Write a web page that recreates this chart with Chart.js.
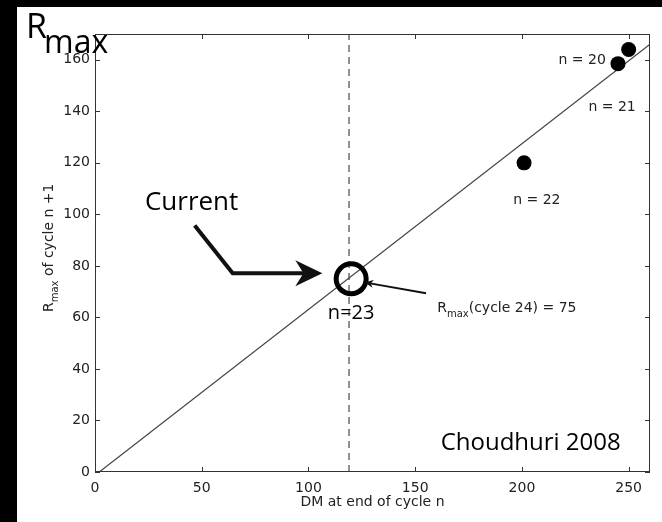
<!DOCTYPE html>
<html>
<head>
<meta charset="utf-8">
<script src="https://cdn.jsdelivr.net/npm/chart.js@4.4.1/dist/chart.umd.min.js"></script>
<style>
  html, body { margin: 0; padding: 0; background: #000; }
  #sheet { position: absolute; left: 17px; top: 7px; width: 645px; height: 515px; background: #fff; }
  canvas { display: block; }
</style>
</head>
<body>
<div id="sheet"><canvas id="chart" width="645" height="515"></canvas></div>
<script>
// Axis ticks
const xTicks = [0, 50, 100, 150, 200, 250];
const yTicks = [0, 20, 40, 60, 80, 100, 120, 140, 160];

// Past cycles: DM at end of cycle n vs Rmax of cycle n+1
const cycleLabels = ['n = 20', 'n = 21', 'n = 22'];
const dmValues = [250, 245, 201];
const rmaxValues = [164, 158.5, 120];

// Current cycle (n = 23)
const currentDM = [120];
const currentRmax = [75];

// Regression line and the vertical cut at current DM
const fitDM = [2, 260];
const fitRmax = [0, 166];
const cutDM = [119, 119];
const cutRmax = [0, 170];

const toXY = (xs, ys) => xs.map((v, i) => ({ x: v, y: ys[i] }));

const TICK_FONT = '14px "DejaVu Sans"';
const NOTE_FONT = '"Open Sans"';

function arrowHead(ctx, tipX, tipY, ang, len, half) {
    ctx.save();
    ctx.translate(tipX, tipY);
    ctx.rotate(ang);
    ctx.beginPath();
    ctx.moveTo(0, 0);
    ctx.lineTo(-len, -half);
    ctx.lineTo(-len * 0.7, 0);
    ctx.lineTo(-len, half);
    ctx.closePath();
    ctx.fill();
    ctx.restore();
}

const annotate = {
    id: 'annotate',
    afterDatasetsDraw(chart) {
        const { ctx, chartArea: a, scales: { x, y } } = chart;
        const px = v => x.getPixelForValue(v);
        const py = v => y.getPixelForValue(v);
        ctx.save();

        // frame + inward ticks (matlab style)
        ctx.strokeStyle = '#333';
        ctx.lineWidth = 1;
        ctx.strokeRect(a.left + 0.5, a.top + 0.5, a.right - a.left - 1, a.bottom - a.top - 1);
        ctx.beginPath();
        xTicks.forEach(v => {
            const X = Math.round(px(v)) + 0.5;
            ctx.moveTo(X, a.bottom); ctx.lineTo(X, a.bottom - 5);
            ctx.moveTo(X, a.top); ctx.lineTo(X, a.top + 5);
        });
        yTicks.forEach(v => {
            const Y = Math.round(py(v)) + 0.5;
            ctx.moveTo(a.left, Y); ctx.lineTo(a.left + 5, Y);
            ctx.moveTo(a.right, Y); ctx.lineTo(a.right - 5, Y);
        });
        ctx.stroke();

        // cycle labels
        ctx.fillStyle = '#222';
        ctx.font = TICK_FONT;
        ctx.textBaseline = 'alphabetic';
        ctx.textAlign = 'right';
        ctx.fillText(cycleLabels[0], px(239.3), py(158.5));
        ctx.fillText(cycleLabels[1], px(253.3), py(140.3));
        ctx.textAlign = 'center';
        ctx.fillText(cycleLabels[2], px(207), py(104.2));

        // Rmax(cycle 24) = 75 note
        ctx.textAlign = 'left';
        let tx = px(160.3), ty = py(62);
        ctx.fillText('R', tx, ty);
        tx += ctx.measureText('R').width;
        ctx.font = '10px "DejaVu Sans"';
        ctx.fillText('max', tx, ty + 5);
        tx += ctx.measureText('max').width;
        ctx.font = TICK_FONT;
        ctx.fillText('(cycle ' + '24) = ' + currentRmax[0], tx, ty);

        // thin pointer to the open circle
        ctx.strokeStyle = '#111';
        ctx.fillStyle = '#111';
        ctx.lineWidth = 2;
        const p0 = [px(155.1), py(69.4)], p1 = [px(126.2), py(73.6)];
        ctx.beginPath(); ctx.moveTo(p0[0], p0[1]); ctx.lineTo(p1[0], p1[1]); ctx.stroke();
        arrowHead(ctx, p1[0], p1[1], Math.atan2(p1[1] - p0[1], p1[0] - p0[0]), 9, 4);

        // "Current" bent arrow
        ctx.lineWidth = 4;
        ctx.lineJoin = 'miter';
        const b0 = [px(46.7), py(95.7)], b1 = [px(64.5), py(77.1)], b2 = [px(106.5), py(77.1)];
        ctx.beginPath();
        ctx.moveTo(b0[0], b0[1]); ctx.lineTo(b1[0], b1[1]); ctx.lineTo(b2[0] - 18, b2[1]);
        ctx.stroke();
        arrowHead(ctx, b2[0], b2[1], 0, 27, 13);

        ctx.fillStyle = '#000';
        ctx.font = '26px ' + NOTE_FONT;
        ctx.textAlign = 'left';
        ctx.fillText('Current', px(23.4), py(101.5));
        ctx.font = '20px ' + NOTE_FONT;
        ctx.textAlign = 'center';
        ctx.fillText('n=23', px(120), py(59.3));
        ctx.font = '24px ' + NOTE_FONT;
        ctx.textAlign = 'right';
        ctx.fillText('Choudhuri 2008', px(246.3), py(8.5));

        // big Rmax label above the axes
        ctx.textAlign = 'left';
        ctx.font = '34px ' + NOTE_FONT;
        ctx.fillText('R', 9, 31);
        ctx.font = '32px ' + NOTE_FONT;
        ctx.fillText('max', 27, 46);

        // axis titles
        ctx.fillStyle = '#222';
        ctx.font = TICK_FONT;
        ctx.textAlign = 'center';
        ctx.fillText('DM at end of cycle n', (a.left + a.right) / 2, 499);

        ctx.translate(36, 305);
        ctx.rotate(-Math.PI / 2);
        ctx.textAlign = 'left';
        ctx.fillText('R', 0, 0);
        let ry = ctx.measureText('R').width;
        ctx.font = '10px "DejaVu Sans"';
        ctx.fillText('max', ry, 5);
        ry += ctx.measureText('max').width;
        ctx.font = TICK_FONT;
        ctx.fillText(' of cycle n +1', ry, 0);

        ctx.restore();
    }
};

new Chart(document.getElementById('chart'), {
    type: 'scatter',
    data: {
        datasets: [
            {
                data: toXY(dmValues, rmaxValues),
                backgroundColor: '#000',
                borderColor: '#000',
                pointRadius: 7.5,
                borderWidth: 0
            },
            {
                data: toXY(currentDM, currentRmax),
                backgroundColor: 'rgba(0,0,0,0)',
                borderColor: '#000',
                pointRadius: 15,
                borderWidth: 5
            },
            {
                data: toXY(fitDM, fitRmax),
                showLine: true,
                borderColor: '#444',
                borderWidth: 1.2,
                pointRadius: 0
            },
            {
                data: toXY(cutDM, cutRmax),
                showLine: true,
                borderColor: '#222',
                borderWidth: 1,
                borderDash: [7, 5],
                pointRadius: 0
            }
        ]
    },
    options: {
        responsive: false,
        devicePixelRatio: 1,
        animation: false,
        layout: { autoPadding: false, padding: { top: 27, right: 12, left: 0, bottom: 0 } },
        plugins: { legend: { display: false }, tooltip: { enabled: false } },
        scales: {
            x: {
                type: 'linear',
                min: 0,
                max: 260,
                afterBuildTicks: s => { s.ticks = xTicks.map(v => ({ value: v })); },
                afterFit: s => { s.height = 50; s.paddingLeft = 0; s.paddingRight = 0; },
                grid: { display: false, drawTicks: false },
                border: { display: false },
                ticks: { color: '#222', font: { family: 'DejaVu Sans', size: 14 }, padding: 8, maxRotation: 0 }
            },
            y: {
                type: 'linear',
                min: 0,
                max: 170,
                afterBuildTicks: s => { s.ticks = yTicks.map(v => ({ value: v })); },
                afterFit: s => { s.width = 78; s.paddingTop = 0; s.paddingBottom = 0; },
                grid: { display: false, drawTicks: false },
                border: { display: false },
                ticks: { color: '#222', font: { family: 'DejaVu Sans', size: 14 }, padding: 5 }
            }
        }
    },
    plugins: [annotate]
});
</script>
</body>
</html>
